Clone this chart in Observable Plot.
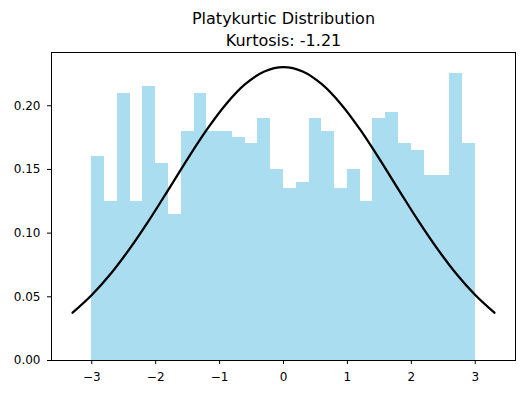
<!DOCTYPE html>
<html>
<head>
<meta charset="utf-8">
<script src="https://cdn.jsdelivr.net/npm/d3@7"></script>
<script src="https://cdn.jsdelivr.net/npm/@observablehq/plot@0.6"></script>
<style>
  html, body { margin: 0; padding: 0; background: #fff; }
  #chart { width: 525px; height: 394px; }
</style>
</head>
<body>
<div id="chart"></div>
<script>
// Histogram bin edges (30 bins, width 0.2) and density values
const binEdges = [-3.0,-2.8,-2.6,-2.4,-2.2,-2.0,-1.8,-1.6,-1.4,-1.2,-1.0,-0.8,-0.6,-0.4,-0.2,0.0,
                  0.2,0.4,0.6,0.8,1.0,1.2,1.4,1.6,1.8,2.0,2.2,2.4,2.6,2.8,3.0];
const densities = [0.16,0.125,0.21,0.125,0.215,0.155,0.115,0.18,0.21,0.18,
                   0.18,0.175,0.17,0.19,0.15,0.135,0.14,0.19,0.18,0.135,
                   0.15,0.125,0.19,0.195,0.17,0.165,0.145,0.145,0.225,0.17];

// Normal curve points
const curveX = [-3.3,-3.0,-2.7,-2.4,-2.1,-1.8,-1.5,-1.2,-0.9,-0.6,-0.3,0.0,
                0.3,0.6,0.9,1.2,1.5,1.8,2.1,2.4,2.7,3.0,3.3];
const curveY = [0.0375,0.0514,0.0683,0.0882,0.1104,0.1342,0.1583,0.1812,0.2012,0.2169,0.2269,0.2303,
                0.2269,0.2169,0.2012,0.1812,0.1583,0.1342,0.1104,0.0882,0.0683,0.0514,0.0375];

const xTicks = [-3,-2,-1,0,1,2,3];
const yTicks = [0.00,0.05,0.10,0.15,0.20];
const titleLines = ["Platykurtic Distribution", "Kurtosis: -1.21"];

const bars = densities.map((d, i) => ({x1: binEdges[i], x2: binEdges[i + 1], y: d}));
const curve = curveX.map((x, i) => ({x, y: curveY[i]}));

const chart = Plot.plot({
  width: 525,
  height: 394,
  marginLeft: 51,
  marginRight: 10,
  marginTop: 52,
  marginBottom: 34,
  style: {fontFamily: "DejaVu Sans", fontSize: "12px", color: "#000", background: "#fff"},
  x: {domain: [-3.63, 3.63], ticks: xTicks, tickFormat: d3.format("d"), label: null},
  y: {domain: [0, 0.2418], ticks: yTicks, tickFormat: d3.format(".2f"), label: null},
  marks: [
    Plot.rectY(bars, {x1: "x1", x2: "x2", y: "y", fill: "rgb(171,221,241)", inset: 0, shapeRendering: "crispEdges"}),
    Plot.line(curve, {x: "x", y: "y", stroke: "black", strokeWidth: 2.3, curve: "catmull-rom"}),
    Plot.frame({stroke: "black", strokeWidth: 1}),
    Plot.axisX({ticks: xTicks, tickFormat: d3.format("d"), tickSize: 4, tickPadding: 8, label: null, fontSize: 12}),
    Plot.axisY({ticks: yTicks, tickFormat: d3.format(".2f"), tickSize: 4, tickPadding: 7, label: null, fontSize: 12}),
    Plot.text([titleLines[0]], {frameAnchor: "top", lineAnchor: "bottom", dy: -29, fontSize: 16, fill: "black"}),
    Plot.text([titleLines[1]], {frameAnchor: "top", lineAnchor: "bottom", dy: -7, fontSize: 16, fill: "black"})
  ]
});
document.getElementById("chart").appendChild(chart);
</script>
</body>
</html>
